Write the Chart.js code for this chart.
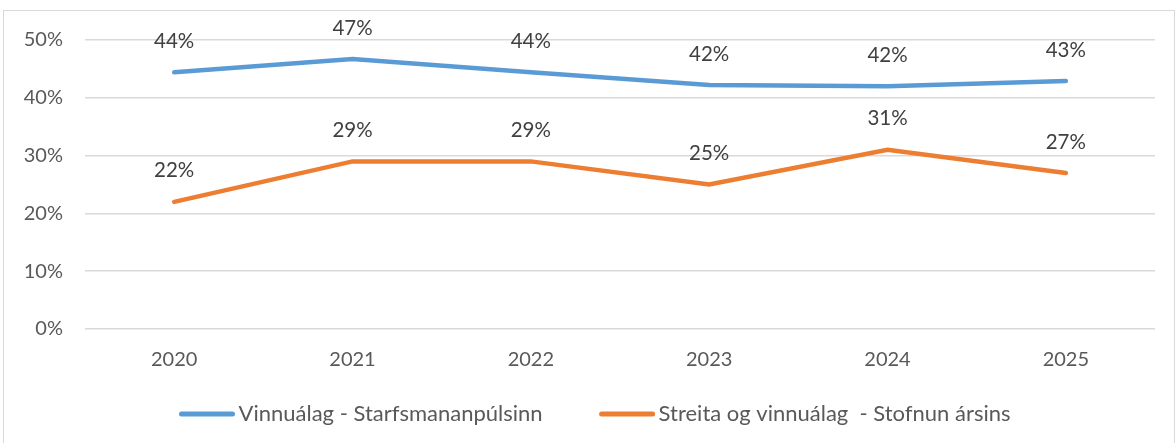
<!DOCTYPE html>
<html>
<head>
<meta charset="utf-8">
<script src="https://cdn.jsdelivr.net/npm/chart.js@4"></script>
<style>
  html, body { margin: 0; padding: 0; background: #fff; }
  #frame {
    position: absolute; left: 3px; top: 10px;
    width: 1172px; height: 440px;
    border: 1px solid #d9d9d9; box-sizing: border-box;
  }
  #frame canvas { display: block; }
</style>
</head>
<body>
<div id="frame"><canvas id="chartWorkload" width="1170" height="438"></canvas></div>
<script>
const years = ["2020", "2021", "2022", "2023", "2024", "2025"];
const pulseWorkload = [44.4, 46.7, 44.4, 42.2, 42.0, 42.9];
const stressWorkload = [22, 29, 29, 25, 31, 27];
const yTicks = [0, 10, 20, 30, 40, 50];

const FONT = "Lato, 'Open Sans', sans-serif";

// writes the rounded value above each point
const pointLabels = {
  id: "pointLabels",
  afterDatasetsDraw(chart) {
    const { ctx } = chart;
    ctx.save();
    ctx.font = `20.5px ${FONT}`;
    ctx.fillStyle = "#404040";
    ctx.textAlign = "center";
    ctx.textBaseline = "middle";
    chart.data.datasets.forEach((ds, i) => {
      chart.getDatasetMeta(i).data.forEach((pt, j) => {
        ctx.fillText(`${Math.round(ds.data[j])}%`, pt.x, pt.y - 31);
      });
    });
    ctx.restore();
  },
};

// legend row under the axis: short thick line + series name
const lineLegend = {
  id: "lineLegend",
  afterDraw(chart) {
    const { ctx } = chart;
    const lineLen = 55, gap = 4, spacing = 57, y = 403;
    ctx.save();
    ctx.font = `22px ${FONT}`;
    const items = chart.data.datasets.map((ds) => ({
      ds,
      w: lineLen + gap + ctx.measureText(ds.label).width,
    }));
    const total = items.reduce((s, it) => s + it.w, 0) + spacing * (items.length - 1);
    let x = chart.width / 2 - total / 2 + 6;
    items.forEach(({ ds, w }) => {
      ctx.strokeStyle = ds.borderColor;
      ctx.lineWidth = 5;
      ctx.lineCap = "round";
      ctx.beginPath();
      ctx.moveTo(x + 2, y);
      ctx.lineTo(x + lineLen - 2, y);
      ctx.stroke();
      ctx.fillStyle = "#595959";
      ctx.textAlign = "left";
      ctx.textBaseline = "middle";
      ctx.fillText(ds.label, x + lineLen + gap, y);
      x += w + spacing;
    });
    ctx.restore();
  },
};

new Chart(document.getElementById("chartWorkload").getContext("2d"), {
  type: "line",
  data: {
    labels: years,
    datasets: [
      {
        label: "Vinnuálag - Starfsmananpúlsinn",
        data: pulseWorkload,
        borderColor: "#5b9bd5",
        backgroundColor: "#5b9bd5",
        borderWidth: 4.5,
        borderCapStyle: "round",
        pointRadius: 0,
        tension: 0,
      },
      {
        label: "Streita og vinnuálag  - Stofnun ársins",
        data: stressWorkload,
        borderColor: "#ed7d31",
        backgroundColor: "#ed7d31",
        borderWidth: 4.5,
        borderCapStyle: "round",
        pointRadius: 0,
        tension: 0,
      },
    ],
  },
  options: {
    responsive: false,
    animation: false,
    layout: { autoPadding: false, padding: { top: 29, right: 19, bottom: 56, left: 0 } },
    scales: {
      y: {
        min: 0,
        max: 50,
        afterBuildTicks: (axis) => { axis.ticks = yTicks.map((v) => ({ value: v })); },
        afterFit: (axis) => { axis.width = 81; axis.paddingTop = 0; axis.paddingBottom = 0; },
        ticks: {
          color: "#595959",
          font: { family: FONT, size: 20 },
          padding: 22,
          callback: (v) => `${v}%`,
        },
        grid: { color: "#d9d9d9", lineWidth: 1.5, drawTicks: false },
        border: { display: false },
      },
      x: {
        offset: true,
        afterFit: (axis) => { axis.height = 64; },
        ticks: { color: "#595959", font: { family: FONT, size: 20 }, padding: 19 },
        grid: { display: false, drawTicks: false },
        border: { display: false },
      },
    },
    plugins: {
      legend: { display: false },
      tooltip: { enabled: false },
    },
  },
  plugins: [pointLabels, lineLegend],
});
</script>
</body>
</html>
